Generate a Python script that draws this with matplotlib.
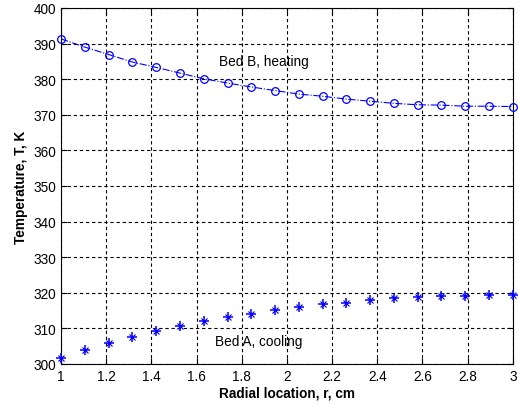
import numpy as np
import matplotlib
matplotlib.use('Agg')
import matplotlib.pyplot as plt

# radial positions (20 nodes from 1 to 3 cm)
r = [1.000, 1.105, 1.211, 1.316, 1.421, 1.526, 1.632, 1.737, 1.842, 1.947,
     2.053, 2.158, 2.263, 2.368, 2.474, 2.579, 2.684, 2.789, 2.895, 3.000]

bed_b = [391.3, 389.0, 386.9, 384.8, 383.3, 381.7, 380.1, 378.9, 377.8, 376.8,
         375.8, 375.2, 374.4, 373.8, 373.2, 372.8, 372.7, 372.4, 372.4, 372.3]

bed_a = [301.6, 304.0, 305.8, 307.6, 309.2, 310.6, 312.0, 313.1, 314.0, 315.2,
         316.1, 316.8, 317.2, 317.9, 318.5, 318.8, 319.2, 319.2, 319.5, 319.5]

plt.rcParams['font.family'] = ['Liberation Sans', 'DejaVu Sans']

fig = plt.figure(figsize=(5.18, 4.06), dpi=100)
ax = fig.add_axes([0.118, 0.101, 0.872, 0.877])

# Bed B: open circles, dash-dot line
ax.plot(r, bed_b, linestyle='-.', color='blue', linewidth=0.8,
        marker='o', markersize=5.5, markerfacecolor='none',
        markeredgecolor='blue', markeredgewidth=0.9, clip_on=False, zorder=3)

# Bed A: asterisks with red centre dots
ax.plot(r, bed_a, linestyle='none', marker='.', color='red',
        markersize=3, clip_on=False, zorder=3)
ax.plot(r, bed_a, linestyle='none', marker='+', color='blue',
        markersize=7.5, markeredgewidth=1.1, clip_on=False, zorder=4)
ax.plot(r, bed_a, linestyle='none', marker='x', color='blue',
        markersize=4, markeredgewidth=0.8, clip_on=False, zorder=4)

ax.text(1.70, 385.1, 'Bed B, heating', fontsize=9.8, va='center', ha='left')
ax.text(1.68, 306.5, 'Bed A, cooling', fontsize=9.8, va='center', ha='left')

ax.set_xlim(1, 3)
ax.set_ylim(300, 400)
ax.set_xticks(np.arange(1, 3.01, 0.2))
ax.set_xticklabels(['1', '1.2', '1.4', '1.6', '1.8', '2', '2.2', '2.4', '2.6', '2.8', '3'])
ax.set_yticks(np.arange(300, 401, 10))

ax.grid(True, color='black', linestyle=(0, (3, 2.5)), linewidth=0.8)
ax.tick_params(direction='in', top=True, right=True, labelsize=9.8, length=4)
for s in ax.spines.values():
    s.set_linewidth(0.8)

ax.set_xlabel('Radial location, r, cm', fontsize=9.8, fontweight='bold', labelpad=2)
ax.set_ylabel('Temperature, T, K', fontsize=9.8, fontweight='bold', labelpad=4)

fig.savefig('out.png', dpi=100)
